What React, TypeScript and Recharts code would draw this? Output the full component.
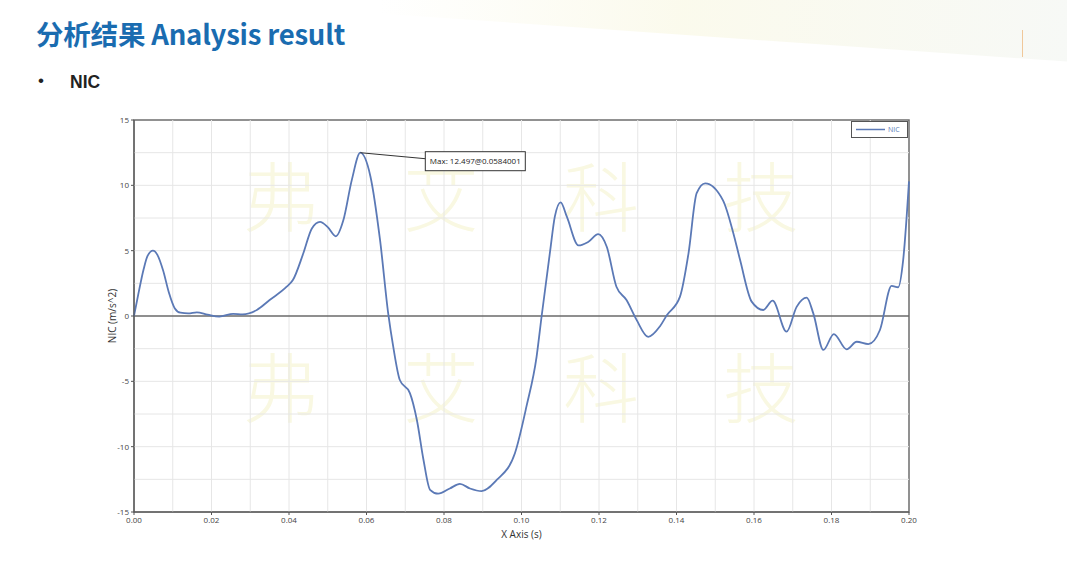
import React from 'react'
import {
  LineChart,
  Line,
  XAxis,
  YAxis,
  CartesianGrid,
  ReferenceLine,
  ReferenceArea,
  ReferenceDot
} from 'recharts'

// time (s) and NIC (m/s^2)
const timeS = [
  0, 0.001, 0.0025, 0.0035, 0.0049, 0.006, 0.0075, 0.009, 0.0105, 0.012,
  0.014, 0.0162, 0.019, 0.022, 0.0256, 0.028, 0.0317, 0.035, 0.0394, 0.041,
  0.0437, 0.0459, 0.048, 0.05, 0.0521, 0.054, 0.0562, 0.0584, 0.061, 0.0635,
  0.0656, 0.0669, 0.0686, 0.0712, 0.073, 0.0747, 0.0764, 0.0785, 0.0815, 0.0841,
  0.0867, 0.0897, 0.0936, 0.0983, 0.1013, 0.1039, 0.1052, 0.1074, 0.1086, 0.1101,
  0.1117, 0.1147, 0.1172, 0.1198, 0.122, 0.1245, 0.1271, 0.1297, 0.1327, 0.1357,
  0.1375, 0.1409, 0.1431, 0.1452, 0.1474, 0.152, 0.1547, 0.1564, 0.1594, 0.1624,
  0.1648, 0.1684, 0.171, 0.1736, 0.1753, 0.1779, 0.1806, 0.1839, 0.1865, 0.1895,
  0.1925, 0.1955, 0.1972, 0.1985, 0.2
]
const nicValues = [
  0, 1.5, 3.6, 4.6, 5.0, 4.7, 3.5, 1.8, 0.6, 0.25,
  0.2, 0.28, 0.1, -0.05, 0.17, 0.13, 0.46, 1.22, 2.24, 2.75,
  4.8, 6.7, 7.2, 6.8, 6.1, 7.3, 10.4, 12.497, 10.7, 5.8,
  0.2, -2.35, -4.9, -5.9, -7.96, -11.0, -13.3, -13.6, -13.2, -12.85,
  -13.2, -13.4, -12.55, -10.5, -6.9, -3.1, 0, 5.0, 7.6, 8.7,
  7.6, 5.4, 5.67, 6.27, 5.3, 2.24, 1.22, -0.3, -1.6, -0.8,
  0.06, 1.48, 4.8, 9.4, 10.15, 8.85, 6.3, 4.3, 1.1, 0.46,
  1.17, -1.2, 0.7, 1.4, 0.2, -2.6, -1.38, -2.55, -1.97, -2.15,
  -1.07, 2.3, 2.2, 4.3, 10.3
]

const xTicks = [0, 0.02, 0.04, 0.06, 0.08, 0.1, 0.12, 0.14, 0.16, 0.18, 0.2]
const yTicks = [-15, -10, -5, 0, 5, 10, 15]
const xGrid = [0.01, 0.02, 0.03, 0.04, 0.05, 0.06, 0.07, 0.08, 0.09, 0.1, 0.11, 0.12, 0.13, 0.14, 0.15, 0.16, 0.17, 0.18, 0.19]
const yGrid = [-12.5, -10, -7.5, -5, -2.5, 2.5, 5, 7.5, 10, 12.5]
const watermark = ['弗', '艾', '科', '技']

const maxX = 0.0584
const maxY = 12.497
const maxLabel = 'Max: 12.497@0.0584001'

const data = timeS.map((t, i) => ({ t, nic: nicValues[i] }))

const LINE_COLOR = '#5b79b6'
const FONT = '"Open Sans", "DejaVu Sans", sans-serif'

const MaxCallout = (props: any) => {
  const { cx, cy } = props
  if (cx == null || cy == null) return null
  return (
    <g>
      <line x1={cx} y1={cy} x2={cx + 65} y2={cy + 6} stroke="#333" strokeWidth={1} />
      <rect x={cx + 65} y={cy - 1} width={100} height={19} fill="#fff" stroke="#333" strokeWidth={1} />
      <text x={cx + 115} y={cy + 11.5} textAnchor="middle" fontSize={8} fill="#222" fontFamily={FONT}>
        {maxLabel}
      </text>
    </g>
  )
}

const LegendBox = () => (
  <svg width={57} height={17} style={{ position: 'absolute', left: 851, top: 121 }}>
    <rect x={0.5} y={0.5} width={56} height={16} fill="#fff" stroke="#555" strokeWidth={1} />
    <line x1={5} y1={8.5} x2={34} y2={8.5} stroke={LINE_COLOR} strokeWidth={1.5} />
    <text x={37} y={11} fontSize={7} fill={LINE_COLOR} fontFamily={FONT}>NIC</text>
  </svg>
)

export default function App() {
  return (
    <div style={{ position: 'absolute', left: 0, top: 0, width: 1067, height: 561, background: '#fff', overflow: 'hidden', fontFamily: FONT }}>
      {/* faint slide decoration */}
      <div style={{ position: 'absolute', left: 380, top: -40, width: 760, height: 80, background: 'linear-gradient(90deg, rgba(250,248,228,0) 0%, rgba(250,249,232,0.8) 40%, rgba(244,247,246,0.8) 100%)', transform: 'rotate(4deg)' }} />
      <div style={{ position: 'absolute', left: 1022, top: 30, width: 1, height: 27, background: '#f0c89a' }} />
      <div style={{ position: 'absolute', left: 36, top: 16, fontFamily: '"Noto Sans CJK SC", "Noto Sans", sans-serif', fontWeight: 700, fontSize: 27.5, color: '#1a6cb0', letterSpacing: -0.2, lineHeight: 1.3 }}>
        分析结果 Analysis result
      </div>
      <div style={{ position: 'absolute', left: 38, top: 71, fontFamily: '"Liberation Sans", Arial, sans-serif', fontSize: 17, color: '#222' }}>•</div>
      <div style={{ position: 'absolute', left: 70, top: 72, fontFamily: '"Liberation Sans", Arial, sans-serif', fontWeight: 700, fontSize: 17.5, color: '#222' }}>NIC</div>

      {watermark.map((ch, i) => (
        <React.Fragment key={ch}>
          <div style={{ position: 'absolute', left: 243 + i * 160, top: 155, fontSize: 76, lineHeight: 1, color: '#f9f8e2', fontFamily: '"Noto Sans CJK SC", sans-serif', fontWeight: 300 }}>{ch}</div>
          <div style={{ position: 'absolute', left: 243 + i * 160, top: 346, fontSize: 76, lineHeight: 1, color: '#f9f8e2', fontFamily: '"Noto Sans CJK SC", sans-serif', fontWeight: 300 }}>{ch}</div>
        </React.Fragment>
      ))}

      <div style={{ position: 'absolute', left: 0, top: 0 }}>
        <LineChart width={1067} height={561} data={data} margin={{ top: 120, right: 158, bottom: 19, left: 94 }}>
          <CartesianGrid horizontal={false} vertical={false} />
          {xGrid.map((g) => (
            <ReferenceLine key={'x' + g} x={g} stroke="#e6e6e6" strokeWidth={1} />
          ))}
          {yGrid.map((g) => (
            <ReferenceLine key={'y' + g} y={g} stroke="#e6e6e6" strokeWidth={1} />
          ))}
          <ReferenceArea x1={0} x2={0.2} y1={-15} y2={15} fill="none" stroke="#6e6e6e" strokeWidth={1.5} />
          <ReferenceLine y={0} stroke="#6a6a6a" strokeWidth={1.5} />
          <XAxis
            dataKey="t"
            type="number"
            domain={[0, 0.2]}
            ticks={xTicks}
            tickFormatter={(v: number) => v.toFixed(2)}
            height={30}
            axisLine={{ stroke: '#555' }}
            tickLine={{ stroke: '#555' }}
            tickSize={3}
            tick={{ fontSize: 8, fill: '#444', fontFamily: FONT }}
            label={{ value: 'X Axis (s)', position: 'insideBottom', offset: 4, fontSize: 10, fill: '#333', fontFamily: FONT }}
          />
          <YAxis
            type="number"
            domain={[-15, 15]}
            ticks={yTicks}
            width={40}
            axisLine={{ stroke: '#555' }}
            tickLine={{ stroke: '#555' }}
            tickSize={3}
            tick={{ fontSize: 8, fill: '#444', fontFamily: FONT }}
            label={{ value: 'NIC (m/s^2)', angle: -90, position: 'insideLeft', offset: 18, fontSize: 10, fill: '#333', fontFamily: FONT, style: { textAnchor: 'middle' } }}
          />
          <Line
            type="monotone"
            dataKey="nic"
            stroke={LINE_COLOR}
            strokeWidth={1.8}
            dot={false}
            isAnimationActive={false}
          />
          <ReferenceDot x={maxX} y={maxY} r={0} shape={MaxCallout} />
        </LineChart>
      </div>
      <LegendBox />
    </div>
  )
}
